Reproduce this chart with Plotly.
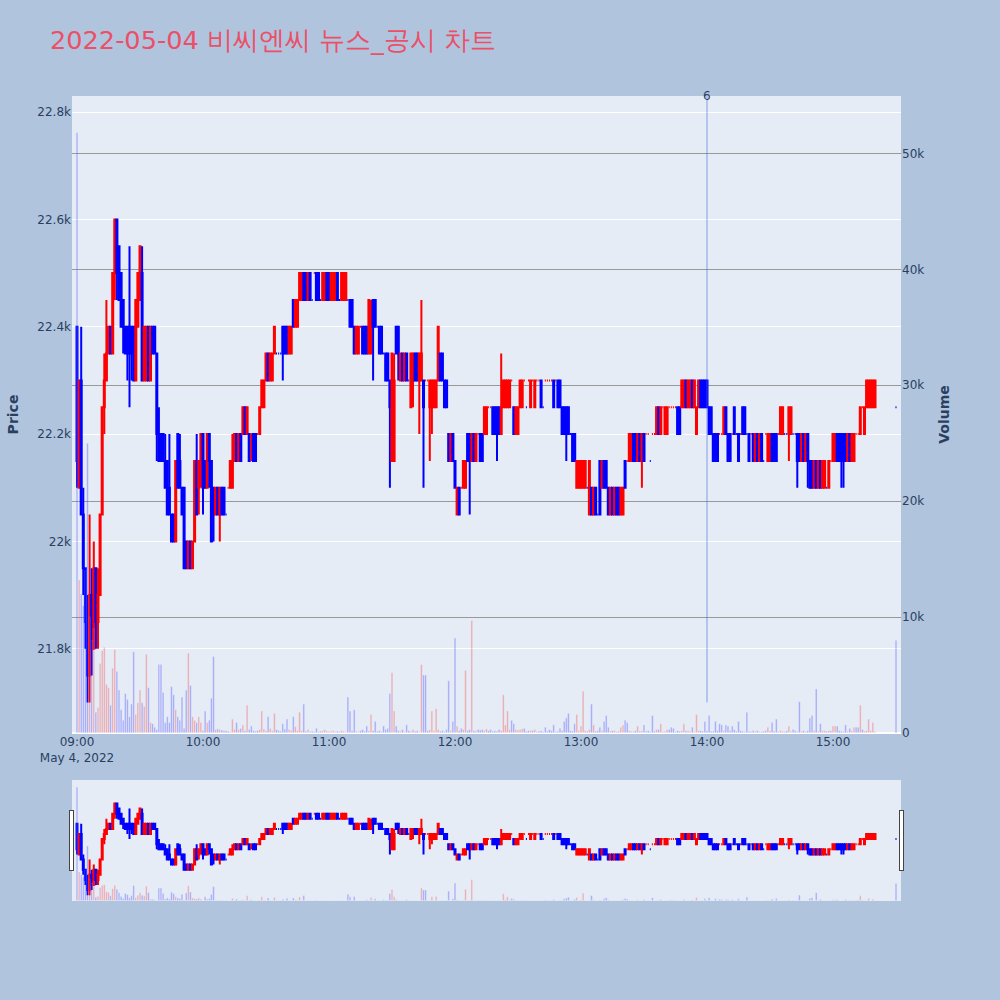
import pandas as pd
import plotly.graph_objects as go
from plotly.subplots import make_subplots

# ---- data (1-minute candles, 09:00-15:20, plus 15:30 closing auction) ----
opens = [
 22400,22100,22300,22050,21950,21850,21750,21900,21800,21950,
 21850,21900,22050,22250,22300,22350,22400,22350,22500,22600,
 22550,22500,22450,22400,22400,22400,22400,22400,22300,22400,
 22450,22500,22300,22300,22400,22300,22400,22400,22350,22200,
 22200,22200,22150,22150,22100,22050,22050,22000,22200,22150,
 22100,22100,22000,21950,22000,21950,22000,22150,22100,22150,
 22200,22150,22100,22200,22150,22100,22050,22100,22050,22100,
 22100,22050,22100,22100,22100,22150,22200,22150,22200,22200,
 22250,22200,22200,22200,22200,22200,22200,22200,22250,22250,
 22300,22350,22300,22300,22350,22350,22350,22350,22400,22400,
 22400,22350,22350,22450,22400,22400,22450,22450,22500,22500,
 22450,22500,22450,22500,22500,22500,22450,22450,22450,22500,
 22500,22450,22450,22450,22500,22450,22450,22450,22450,22450,
 22450,22450,22400,22350,22350,22400,22400,22400,22400,22350,
 22350,22450,22450,22400,22400,22400,22350,22350,22350,22300,
 22150,22150,22400,22400,22300,22350,22300,22350,22300,22250,
 22300,22350,22350,22300,22300,22300,22300,22300,22250,22250,
 22250,22250,22300,22350,22350,22300,22300,22200,22150,22200,
 22150,22050,22100,22100,22100,22100,22200,22200,22150,22200,
 22150,22200,22200,22200,22200,22200,22250,22250,22250,22250,
 22250,22250,22200,22250,22250,22250,22250,22300,22250,22200,
 22200,22250,22250,22300,22250,22300,22250,22300,22250,22300,
 22300,22300,22250,22300,22300,22300,22300,22300,22300,22300,
 22300,22250,22250,22250,22250,22200,22200,22200,22100,22100,
 22100,22100,22100,22100,22050,22100,22050,22100,22050,22150,
 22100,22150,22150,22100,22050,22100,22050,22100,22100,22050,
 22050,22150,22150,22150,22150,22200,22200,22150,22200,22150,
 22200,22200,22200,22150,22200,22200,22200,22250,22200,22250,
 22200,22200,22250,22250,22250,22250,22250,22250,22250,22250,
 22300,22250,22250,22300,22250,22200,22250,22300,22300,22300,
 22300,22250,22250,22200,22200,22200,22200,22200,22200,22250,
 22200,22200,22200,22250,22200,22200,22200,22250,22250,22200,
 22200,22200,22200,22150,22200,22150,22200,22150,22200,22150,
 22150,22200,22200,22200,22200,22200,22200,22200,22200,22200,
 22200,22200,22200,22200,22200,22150,22200,22150,22200,22150,
 22150,22100,22150,22100,22150,22100,22100,22100,22100,22150,
 22150,22150,22200,22200,22200,22200,22200,22150,22200,22150,
 22150,22200,22200,22200,22250,22200,22250,22250,22250,22250,22250,
 22250]
highs = [
 22400,22300,22400,22100,21950,21900,22050,21950,22000,21950,
 21950,22050,22250,22350,22450,22400,22400,22500,22600,22600,
 22550,22500,22450,22400,22400,22550,22400,22400,22450,22500,
 22550,22550,22400,22400,22400,22400,22400,22400,22350,22250,
 22200,22200,22200,22150,22200,22050,22050,22150,22200,22200,
 22100,22100,22000,22000,22000,22000,22150,22200,22150,22200,
 22200,22150,22200,22200,22150,22100,22100,22100,22100,22100,
 22100,22050,22100,22150,22200,22200,22200,22200,22200,22250,
 22250,22250,22200,22200,22200,22200,22200,22250,22300,22300,
 22350,22350,22350,22350,22400,22350,22350,22350,22400,22400,
 22400,22400,22400,22450,22450,22450,22500,22500,22500,22500,
 22500,22500,22450,22500,22500,22500,22450,22500,22500,22500,
 22500,22500,22500,22500,22500,22450,22500,22500,22500,22450,
 22450,22450,22400,22400,22400,22400,22400,22400,22400,22450,
 22450,22450,22450,22400,22400,22400,22350,22350,22350,22300,
 22350,22350,22400,22400,22350,22350,22350,22350,22300,22350,
 22350,22350,22350,22350,22450,22300,22300,22300,22300,22300,
 22300,22300,22400,22350,22350,22300,22300,22200,22200,22200,
 22150,22100,22100,22100,22150,22150,22200,22200,22200,22200,
 22200,22200,22200,22200,22250,22250,22250,22250,22250,22250,
 22250,22250,22350,22300,22300,22300,22300,22300,22250,22250,
 22250,22300,22300,22300,22250,22300,22300,22300,22300,22300,
 22300,22300,22250,22300,22300,22300,22300,22300,22300,22300,
 22300,22250,22250,22250,22250,22200,22200,22200,22150,22150,
 22150,22150,22150,22100,22150,22100,22100,22100,22050,22150,
 22150,22150,22150,22100,22100,22100,22100,22100,22100,22100,
 22100,22150,22150,22200,22200,22200,22200,22200,22200,22200,
 22200,22200,22200,22150,22200,22200,22250,22250,22250,22250,
 22250,22250,22250,22250,22250,22250,22250,22250,22300,22300,
 22300,22300,22300,22300,22300,22250,22300,22300,22300,22300,
 22300,22250,22250,22200,22200,22200,22200,22200,22250,22250,
 22200,22200,22200,22250,22200,22200,22200,22250,22250,22200,
 22200,22200,22200,22200,22200,22200,22200,22150,22200,22200,
 22200,22200,22200,22200,22200,22250,22250,22200,22200,22250,
 22250,22200,22200,22200,22200,22200,22200,22200,22200,22150,
 22150,22150,22150,22150,22150,22150,22150,22100,22150,22150,
 22200,22200,22200,22200,22200,22200,22200,22200,22200,22200,
 22200,22200,22200,22250,22250,22250,22300,22300,22300,22300,22300,
 22250]
lows = [
 22100,22100,22050,21900,21800,21700,21700,21750,21800,21800,
 21800,21900,22050,22200,22300,22350,22350,22350,22450,22450,
 22450,22400,22350,22350,22300,22250,22300,22300,22300,22400,
 22450,22300,22300,22300,22300,22300,22350,22350,22150,22150,
 22150,22150,22100,22050,22050,22000,22000,22000,22100,22100,
 22050,21950,21950,21950,21950,21950,22000,22050,22050,22100,
 22050,22100,22100,22100,22000,22000,22050,22050,22000,22050,
 22050,22050,22100,22100,22100,22150,22150,22150,22150,22200,
 22200,22200,22150,22150,22150,22150,22200,22200,22250,22250,
 22300,22300,22300,22300,22350,22350,22350,22350,22300,22350,
 22350,22350,22350,22400,22400,22400,22450,22450,22450,22450,
 22450,22450,22450,22500,22450,22450,22450,22450,22450,22450,
 22450,22450,22450,22450,22450,22450,22450,22450,22450,22450,
 22400,22400,22350,22350,22350,22400,22350,22350,22350,22350,
 22350,22300,22400,22400,22350,22350,22350,22300,22300,22100,
 22150,22150,22350,22300,22300,22300,22300,22300,22300,22250,
 22250,22300,22300,22200,22300,22100,22300,22300,22150,22200,
 22250,22250,22300,22300,22300,22250,22250,22150,22150,22150,
 22100,22050,22050,22100,22100,22100,22150,22050,22150,22150,
 22150,22200,22150,22150,22200,22200,22250,22250,22200,22200,
 22150,22200,22200,22250,22250,22250,22250,22300,22200,22200,
 22200,22250,22250,22300,22250,22300,22250,22300,22250,22300,
 22300,22250,22250,22300,22300,22300,22300,22250,22300,22250,
 22250,22200,22200,22150,22200,22200,22150,22150,22100,22100,
 22100,22100,22100,22100,22050,22050,22050,22050,22050,22050,
 22100,22100,22100,22050,22050,22050,22050,22050,22050,22050,
 22050,22100,22150,22150,22150,22150,22150,22150,22150,22100,
 22150,22200,22200,22150,22200,22200,22200,22200,22200,22250,
 22200,22200,22250,22250,22250,22250,22200,22200,22250,22250,
 22250,22250,22250,22250,22250,22200,22250,22250,22250,22250,
 22250,22200,22200,22150,22150,22150,22200,22200,22200,22200,
 22150,22150,22200,22200,22200,22150,22200,22200,22200,22200,
 22150,22200,22150,22150,22150,22150,22150,22150,22200,22150,
 22150,22150,22150,22150,22200,22200,22200,22200,22200,22150,
 22200,22200,22200,22100,22150,22150,22150,22150,22100,22100,
 22100,22100,22100,22100,22100,22100,22100,22100,22100,22150,
 22150,22150,22150,22150,22100,22100,22150,22150,22150,22150,
 22150,22200,22200,22200,22250,22200,22250,22250,22250,22250,22250,
 22250]
closes = [
 22150,22300,22050,21950,21850,21750,21900,21800,21950,21850,
 21900,22050,22250,22300,22350,22400,22350,22500,22600,22500,
 22450,22400,22400,22350,22350,22350,22350,22300,22450,22500,
 22550,22300,22400,22400,22300,22400,22350,22350,22200,22150,
 22150,22150,22100,22050,22050,22000,22000,22150,22100,22100,
 22050,21950,21950,22000,21950,22000,22150,22050,22150,22200,
 22100,22100,22200,22150,22000,22050,22100,22050,22100,22050,
 22050,22050,22100,22150,22150,22200,22150,22200,22150,22250,
 22200,22250,22150,22200,22150,22150,22200,22250,22300,22300,
 22350,22300,22350,22350,22400,22350,22350,22350,22350,22350,
 22350,22400,22400,22400,22450,22450,22500,22500,22450,22450,
 22500,22450,22450,22500,22450,22450,22450,22500,22500,22450,
 22450,22500,22500,22500,22450,22450,22500,22500,22500,22450,
 22400,22400,22350,22400,22400,22400,22350,22350,22350,22450,
 22400,22400,22400,22400,22350,22350,22350,22300,22300,22250,
 22350,22300,22350,22350,22350,22300,22350,22300,22300,22350,
 22350,22300,22300,22350,22350,22250,22300,22300,22300,22300,
 22300,22300,22400,22300,22300,22250,22250,22150,22200,22150,
 22100,22100,22050,22100,22150,22150,22150,22150,22200,22150,
 22200,22200,22150,22150,22250,22250,22250,22250,22200,22200,
 22200,22200,22250,22300,22300,22300,22300,22300,22200,22250,
 22250,22300,22300,22300,22250,22300,22300,22300,22300,22300,
 22300,22250,22250,22300,22300,22300,22300,22250,22300,22250,
 22250,22200,22200,22200,22200,22200,22150,22150,22150,22150,
 22150,22150,22150,22100,22150,22050,22100,22050,22050,22050,
 22150,22100,22100,22050,22100,22050,22100,22050,22050,22100,
 22100,22100,22150,22200,22200,22150,22150,22200,22150,22200,
 22150,22200,22200,22150,22200,22200,22250,22200,22250,22250,
 22250,22250,22250,22250,22250,22250,22200,22200,22300,22300,
 22250,22300,22300,22250,22300,22250,22300,22250,22250,22250,
 22250,22200,22200,22150,22150,22150,22200,22200,22250,22200,
 22150,22150,22200,22200,22200,22150,22200,22200,22200,22200,
 22150,22200,22150,22200,22150,22200,22150,22150,22200,22200,
 22200,22150,22150,22150,22200,22250,22250,22200,22200,22250,
 22250,22200,22200,22150,22150,22200,22150,22200,22150,22100,
 22100,22150,22100,22150,22100,22150,22150,22100,22150,22150,
 22200,22200,22150,22150,22150,22150,22150,22200,22150,22200,
 22200,22200,22200,22250,22250,22250,22300,22300,22300,22300,22300,
 22250]
volumes = [
 51800,13200,12000,11000,14000,25000,10000,8000,9000,1800,
 2200,6000,7100,7400,4200,3900,2400,5600,7200,5300,
 3700,2000,1100,3400,2900,1400,2500,7000,1600,2600,
 3700,2600,2300,6800,3900,900,800,500,300,5900,
 5900,3500,900,1400,900,4000,3300,2000,1400,1100,
 3100,400,3700,6900,4100,1400,1100,900,1400,900,
 200,1900,900,1100,3000,6600,300,350,300,250,
 200,200,150,100,1200,300,900,300,400,700,
 200,2400,300,600,200,150,200,300,1900,350,
 200,1400,400,200,1700,300,200,150,800,350,
 1200,300,200,1400,550,200,1800,200,2500,150,
 300,100,150,100,400,100,150,200,300,150,
 100,150,200,100,150,100,200,150,100,3100,
 1900,200,2000,150,100,200,300,150,600,200,
 1600,200,1000,150,200,100,600,300,400,3400,
 5200,1900,600,200,150,300,100,700,200,150,
 300,150,200,100,5900,5000,5000,200,300,1900,
 200,2100,300,150,200,100,300,4500,200,1000,
 8200,600,200,400,300,5400,200,300,9700,200,
 200,300,250,300,200,350,200,300,150,200,
 150,300,200,3300,700,1900,300,1100,800,300,
 250,300,350,400,150,200,200,200,300,100,
 150,200,100,500,150,300,200,700,100,150,
 400,200,1000,1300,1700,200,150,800,1600,200,
 600,3600,200,150,300,2500,700,150,200,500,
 200,1000,1500,500,150,200,200,100,150,500,
 700,1100,900,200,150,100,200,600,150,200,
 700,150,200,100,1500,150,300,300,800,100,
 150,300,300,500,400,100,200,150,200,800,
 200,200,150,500,100,1600,200,200,150,1000,
 200,1500,150,150,1000,200,800,700,200,700,
 600,200,600,300,150,1000,200,150,100,1800,
 150,100,200,150,200,100,100,150,200,500,
 200,900,150,1200,100,200,150,100,200,600,
 150,300,200,100,2700,150,200,100,200,1300,
 1500,200,3800,150,800,200,200,150,200,200,
 600,600,600,200,150,100,700,150,400,200,
 500,500,500,2400,300,150,200,1200,200,900,100,
 8000]
times = list(pd.date_range("2022-05-04 09:00", "2022-05-04 15:20", freq="min")) + [pd.Timestamp("2022-05-04 15:30")]
news_time = pd.Timestamp("2022-05-04 14:00")
news_label = "6"
title_text = "2022-05-04 비씨엔씨 뉴스_공시 차트"

bar_colors = ["red" if c > o else "blue" for o, c in zip(opens, closes)]

fig = make_subplots(specs=[[{"secondary_y": True}]])
fig.add_trace(go.Candlestick(
    x=times, open=opens, high=highs, low=lows, close=closes,
    increasing=dict(line=dict(color="red"), fillcolor="red"),
    decreasing=dict(line=dict(color="blue"), fillcolor="blue"),
    name="Price", showlegend=False), secondary_y=False)
fig.add_trace(go.Bar(x=times, y=volumes, marker_color=bar_colors, opacity=0.3,
                     name="Volume", showlegend=False), secondary_y=True)

x_lo, x_hi = "2022-05-04 08:57:37", "2022-05-04 15:32:23"
y_lo, y_hi = 21643, 22830

fig.add_shape(type="line", x0=news_time, x1=news_time, y0=min(lows), y1=y_hi,
              xref="x", yref="y", line=dict(color="royalblue", width=1), opacity=0.6)
fig.add_annotation(x=news_time, y=1, xref="x", yref="paper", text=news_label,
                   showarrow=False, yanchor="middle", font=dict(size=12, color="#2a3f5f"))

fig.update_layout(
    width=1000, height=1000,
    font=dict(family="DejaVu Sans, Verdana, sans-serif"),
    paper_bgcolor="lightsteelblue",
    plot_bgcolor="#E5ECF6",
    title=dict(text=title_text, font=dict(size=25.6, color="#EB5068"), x=0.05, y=0.96, yanchor="middle"),
    margin=dict(l=72, r=99, t=96, b=100),
    showlegend=False,
    bargap=0.2,
)
fig.update_xaxes(domain=[0, 1], range=[x_lo, x_hi],
                 rangeslider=dict(visible=True, bgcolor="#E5ECF6", range=[x_lo, x_hi]))
fig.update_yaxes(title_text="<b>Price</b>", range=[y_lo, y_hi], gridcolor="white", secondary_y=False)
fig.update_yaxes(title_text="<b>Volume</b>", range=[0, 54960], gridcolor="#999999", secondary_y=True)

fig.write_html("out.html", config={"displayModeBar": False},
               post_script="document.body.style.margin='0';")
